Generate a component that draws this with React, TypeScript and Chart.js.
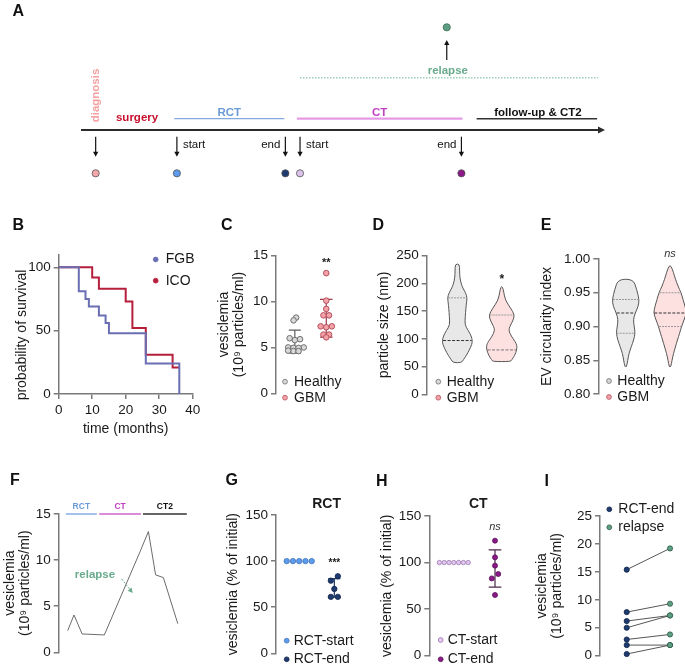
import React, { useEffect, useRef } from "react";
import { Chart, registerables } from "chart.js";

Chart.register(...registerables);

const W = 685;
const H = 669;
const FONT = "'Liberation Sans', Arial, Helvetica, sans-serif";
Chart.defaults.font.family = FONT;
Chart.defaults.font.size = 14;
Chart.defaults.color = "#1a1a1a";

// ======================= DATA =======================
// A - treatment timeline (schematic course units 0-100)
const timelineEventLabels = ["diagnosis", "RCT-start", "RCT-end", "CT-start", "CT-end"];
const timelineEventPos = [2.8, 18.3, 39.0, 41.8, 72.6];
const timelinePhaseLabels = ["RCT", "CT", "follow-up & CT2"];
const timelinePhaseStart = [17.8, 41.2, 75.5];
const timelinePhaseEnd = [38.8, 72.8, 98.5];
const timelineSurgeryPos = 10.7;
const timelineRelapsePos = 69.8;
const timelineRelapseSpan = [41.8, 98.7];

// B - Kaplan-Meier survival (%)
const kmFgbMonths = [0, 6, 8, 9, 12, 14, 15, 26, 36];
const kmFgbSurvival = [100, 81, 75, 69, 62, 56, 48, 24, 0];
const kmIcoMonths = [0, 10, 12, 20, 22, 26, 34, 36];
const kmIcoSurvival = [100, 92, 83, 73, 52, 31, 21, 21];
const kmTicksX = [0, 10, 20, 30, 40];
const kmTicksY = [0, 50, 100];

// C - vesiclemia (10^9 particles/ml)
const vesHealthy = [8.25, 7.95, 6.0, 5.8, 5.9, 5.0, 4.95, 5.0, 4.95, 4.6, 4.6, 4.65];
const vesGbm = [13.1, 10.1, 9.2, 8.5, 8.5, 7.3, 7.3, 7.2, 6.4, 6.4, 6.1];
const vesTicks = [0, 5, 10, 15];

// D - particle size violins (nm levels, relative density)
const sizeHealthyLevels = [57, 62, 70, 80, 90, 97, 105, 115, 125, 140, 155, 165, 174, 182, 190, 198, 210, 222, 235];
const sizeHealthyDensity = [0.27, 0.4, 0.6, 0.8, 0.97, 1, 0.93, 0.73, 0.5, 0.53, 0.57, 0.61, 0.65, 0.57, 0.4, 0.27, 0.17, 0.15, 0.15];
const sizeHealthyQuartiles = [97, 174];
const sizeGbmLevels = [59, 62, 70, 80, 88, 95, 105, 115, 122, 132, 143, 155, 170, 185, 194];
const sizeGbmDensity = [0.57, 0.65, 0.85, 0.98, 1, 0.88, 0.62, 0.46, 0.52, 0.72, 0.85, 0.59, 0.23, 0.13, 0.05];
const sizeGbmQuartiles = [80, 143];
const sizeTicks = [0, 50, 100, 150, 200, 250];

// E - EV circularity violins
const circHealthyLevels = [0.84, 0.85, 0.86, 0.87, 0.88, 0.89, 0.9, 0.91, 0.92, 0.93, 0.94, 0.955, 0.97];
const circHealthyDensity = [0.06, 0.15, 0.24, 0.41, 0.59, 0.7, 0.63, 0.56, 0.7, 0.93, 1, 0.81, 0.56];
const circHealthyQuartiles = [0.92, 0.89, 0.94];
const circGbmLevels = [0.84, 0.85, 0.86, 0.87, 0.88, 0.89, 0.9, 0.91, 0.92, 0.93, 0.94, 0.95, 0.96, 0.97, 0.98, 0.99];
const circGbmDensity = [0.05, 0.12, 0.21, 0.33, 0.45, 0.58, 0.7, 0.85, 1, 0.91, 0.79, 0.67, 0.48, 0.33, 0.21, 0.06];
const circGbmQuartiles = [0.92, 0.9, 0.95];
const circTicks = [0.8, 0.85, 0.9, 0.95, 1.0];

// F - single patient follow-up
const patientTime = [3, 5.1, 7.8, 15.2, 27.1, 29.9, 32.3, 34.9, 39.7];
const patientVes = [2.35, 4.05, 1.99, 1.88, 10.9, 13.1, 8.4, 8.1, 3.1];
const patientPhases = ["RCT", "CT", "CT2"];
const patientPhaseStart = [2.4, 13.5, 28.1];
const patientPhaseEnd = [12.7, 27.4, 42.7];
const patientRelapseText = [12.1, 8.38];
const patientRelapseArrow = [21.0, 7.95, 24.67, 6.43];

// G - RCT (% of initial)
const rctStartPct = [100, 100, 100, 100, 100];
const rctEndPct = [83.5, 78.8, 69.8, 61.2, 61.2];
// H - CT (% of initial)
const ctStartPct = [100, 100, 100, 100, 100, 100, 100];
const ctEndPct = [123.5, 105.6, 96.7, 87.7, 83.0, 65.2];
const pctTicks = [0, 50, 100, 150];
// I - paired RCT-end vs relapse
const pairRctEnd = [15.4, 7.8, 6.2, 5.0, 2.9, 1.9, 0.3];
const pairRelapse = [19.2, 9.3, 7.2, 7.2, 3.8, 1.9, 1.9];
const pairTicks = [0, 5, 10, 15, 20, 25];

// ======================= STYLE / LAYOUT =======================
const INK = "#1a1a1a";
const C_AXIS = "#7a7a7a";
const TICK_SIZE = 13.5;
const C_FGB = "#6a6fb3";
const C_ICO = "#b51f3c";
const C_H_FILL = "#d8d8d8";
const C_H_LINE = "#6e6e6e";
const C_G_FILL = "#f3a2a8";
const C_G_LINE = "#b4505d";
const C_RCT_START = "#5d9bec";
const C_RCT_END = "#1e3a6e";
const C_CT_START = "#e2c8f0";
const C_CT_END = "#8a1a88";
const C_RELAPSE = "#5e9f84";

const GEO: any = {
  A: { left: 81, right: 605, top: 0, bottom: 190, titleLeft: 81, xmin: 0, xmax: 100, ymin: 0, ymax: 190 },
  B: { left: 58.7, right: 192.7, top: 254.6, bottom: 394, titleLeft: 14.5, xAxisH: 43.5, xmin: 0, xmax: 40, ymin: 0, ymax: 110 },
  C: { left: 276, right: 345.1, top: 255.7, bottom: 393.3, titleLeft: 216.5, xmin: 0.4, xmax: 2.6, ymin: 0, ymax: 15 },
  D: { left: 426.7, right: 532.8, top: 255.7, bottom: 394.3, titleLeft: 376.5, xmin: 0.31, xmax: 2.7, ymin: 0, ymax: 250 },
  E: { left: 598.3, right: 685, top: 259, bottom: 394, titleLeft: 539.2, xmin: 0.381, xmax: 2.338, ymin: 0.8, ymax: 1.0 },
  F: { left: 58.7, right: 187.7, top: 514, bottom: 652.3, titleLeft: 2.5, xmin: 0, xmax: 43, ymin: 0, ymax: 15 },
  G: { left: 276, right: 351.9, top: 515, bottom: 653.3, titleLeft: 225.8, xmin: 0.339, xmax: 2.5, ymin: 0, ymax: 150 },
  H: { left: 429.3, right: 515.6, top: 516, bottom: 655.7, titleLeft: 379.2, xmin: 0.405, xmax: 2.5, ymin: 0, ymax: 150 },
  I: { left: 600, right: 685, top: 516, bottom: 655.7, titleLeft: 534.8, xmin: 0.383, xmax: 2.346, ymin: 0, ymax: 25 },
};

const LETTERS = [
  ["A", 18.3, 10.7], ["B", 18.3, 225], ["C", 226.7, 225], ["D", 378.3, 225], ["E", 546, 225],
  ["F", 15, 480], ["G", 231.7, 480], ["H", 381.7, 480.7], ["I", 546.7, 480.7],
];

// ======================= HELPERS =======================
function pxPerY(g: any) { return (g.bottom - g.top) / (g.ymax - g.ymin); }
function pxPerX(g: any) { return (g.right - g.left) / (g.xmax - g.xmin); }

// deterministic beeswarm (elliptical collision): returns x offsets in category units
function swarm(values: number[], py: number, px: number, dx: number, dy: number): number[] {
  const order = values.map((_, i) => i).sort((a, b) => values[a] - values[b]);
  const placed: { x: number; y: number }[] = [];
  const xs = new Array(values.length).fill(0);
  const step = dx / 2;
  const free = (c: number, y: number) =>
    placed.every((p) => Math.pow((p.x - c) / dx, 2) + Math.pow((p.y - y) / dy, 2) >= 1 - 1e-6);
  for (const i of order) {
    const y = values[i] * py;
    let best = 0;
    for (let k = 0; k < 400; k++) {
      const cands = k === 0 ? [0] : [k * step, -k * step];
      let found: number | null = null;
      for (const c of cands) { if (free(c, y)) { found = c; break; } }
      if (found !== null) { best = found; break; }
    }
    placed.push({ x: best, y });
    xs[i] = best;
  }
  let cluster: number[] = [];
  const flush = () => {
    if (!cluster.length) return;
    const m = cluster.reduce((s, j) => s + xs[j], 0) / cluster.length;
    cluster.forEach((j) => (xs[j] -= m));
    cluster = [];
  };
  let prev = -Infinity;
  for (const i of order) {
    const y = values[i] * py;
    if (y - prev >= dy) flush();
    cluster.push(i);
    prev = y;
  }
  flush();
  return xs.map((x) => x / px);
}

function interp(lv: number[], dn: number[], v: number) {
  if (v <= lv[0]) return dn[0];
  for (let i = 1; i < lv.length; i++) {
    if (v <= lv[i]) { const t = (v - lv[i - 1]) / (lv[i] - lv[i - 1]); return dn[i - 1] + t * (dn[i] - dn[i - 1]); }
  }
  return dn[dn.length - 1];
}

function smoothClosed(ctx: CanvasRenderingContext2D, pts: number[][]) {
  const n = pts.length;
  const mid = (a: number[], b: number[]) => [(a[0] + b[0]) / 2, (a[1] + b[1]) / 2];
  const m0 = mid(pts[n - 1], pts[0]);
  ctx.moveTo(m0[0], m0[1]);
  for (let i = 0; i < n; i++) {
    const p = pts[i];
    const m = mid(p, pts[(i + 1) % n]);
    ctx.quadraticCurveTo(p[0], p[1], m[0], m[1]);
  }
  ctx.closePath();
}

function makeExtras(items: any[]) {
  const draw = (chart: any, layer: string) => {
    const ctx: CanvasRenderingContext2D = chart.ctx;
    const sx = chart.scales.x;
    const sy = chart.scales.y;
    const P = (it: any, x: number, y: number) =>
      it.s === "px" ? [x, y] : [sx.getPixelForValue(x), sy.getPixelForValue(y)];
    for (const it of items) {
      if ((it.layer || "over") !== layer) continue;
      ctx.save();
      if (it.k === "text") {
        const [X, Y] = P(it, it.x, it.y);
        ctx.translate(X + (it.dx || 0), Y + (it.dy || 0));
        if (it.rot) ctx.rotate(it.rot);
        ctx.font = `${it.font || "14px"} ${FONT}`;
        ctx.fillStyle = it.color || INK;
        ctx.textAlign = it.align || "center";
        ctx.textBaseline = "middle";
        ctx.fillText(it.text, 0, 0);
      } else if (it.k === "dot") {
        const [X, Y] = P(it, it.x, it.y);
        ctx.beginPath();
        ctx.arc(X, Y, it.r, 0, Math.PI * 2);
        ctx.fillStyle = it.fill;
        ctx.fill();
        if (it.stroke) { ctx.strokeStyle = it.stroke; ctx.lineWidth = it.lw || 0.8; ctx.stroke(); }
      } else if (it.k === "arrow") {
        const [x1, y1] = P(it, it.x1, it.y1);
        const [x2, y2] = P(it, it.x2, it.y2);
        const a = Math.atan2(y2 - y1, x2 - x1);
        const hl = it.head || 5, hw = it.hw || 2.5;
        ctx.strokeStyle = it.color; ctx.lineWidth = it.lw || 1;
        if (it.dash) ctx.setLineDash(it.dash);
        ctx.beginPath();
        ctx.moveTo(x1, y1);
        ctx.lineTo(x2 - Math.cos(a) * hl * 0.8, y2 - Math.sin(a) * hl * 0.8);
        ctx.stroke();
        ctx.setLineDash([]);
        ctx.fillStyle = it.color;
        ctx.beginPath();
        ctx.moveTo(x2, y2);
        ctx.lineTo(x2 - Math.cos(a) * hl - Math.sin(a) * hw, y2 - Math.sin(a) * hl + Math.cos(a) * hw);
        ctx.lineTo(x2 - Math.cos(a) * hl + Math.sin(a) * hw, y2 - Math.sin(a) * hl - Math.cos(a) * hw);
        ctx.closePath();
        ctx.fill();
      } else if (it.k === "err") {
        const v: number[] = it.values;
        const n = v.length;
        const m = v.reduce((s, b) => s + b, 0) / n;
        const sd = Math.sqrt(v.reduce((s, b) => s + (b - m) * (b - m), 0) / (n - 1));
        const X = sx.getPixelForValue(it.x);
        const yt = sy.getPixelForValue(m + sd), yb = sy.getPixelForValue(m - sd);
        ctx.strokeStyle = it.color; ctx.lineWidth = it.lw || 1.2;
        ctx.beginPath();
        ctx.moveTo(X, yt); ctx.lineTo(X, yb);
        ctx.moveTo(X - it.cap, yt); ctx.lineTo(X + it.cap, yt);
        ctx.moveTo(X - it.cap, yb); ctx.lineTo(X + it.cap, yb);
        ctx.stroke();
      } else if (it.k === "violin") {
        const cx = sx.getPixelForValue(it.x);
        const lv: number[] = it.levels, dn: number[] = it.dens, hw: number = it.hw;
        const right = lv.map((v, i) => [cx + dn[i] * hw, sy.getPixelForValue(v)]);
        const left = lv.map((v, i) => [cx - dn[i] * hw, sy.getPixelForValue(v)]).reverse();
        ctx.beginPath();
        smoothClosed(ctx, right.concat(left));
        ctx.fillStyle = it.fill; ctx.fill();
        ctx.strokeStyle = it.stroke; ctx.lineWidth = 1; ctx.stroke();
        for (const q of it.lines) {
          const w = interp(lv, dn, q.v) * hw * 0.95;
          const y = sy.getPixelForValue(q.v);
          ctx.setLineDash(q.dash || []);
          ctx.strokeStyle = q.color; ctx.lineWidth = q.lw || 1;
          ctx.beginPath(); ctx.moveTo(cx - w, y); ctx.lineTo(cx + w, y); ctx.stroke();
        }
        ctx.setLineDash([]);
      }
      ctx.restore();
    }
  };
  return {
    id: "extras",
    beforeDatasetsDraw(chart: any) { draw(chart, "under"); },
    afterDatasetsDraw(chart: any) { draw(chart, "over"); },
  };
}

function legend(x: number, y: number, gap: number, dx: number, entries: any[], r = 2.4) {
  const out: any[] = [];
  entries.forEach((e, i) => {
    out.push({ k: "dot", s: "px", x, y: y + i * gap, r, fill: e.fill, stroke: e.stroke, lw: 0.8 });
    out.push({ k: "text", s: "px", x: x + dx, y: y + i * gap, text: e.label, font: "14px", align: "left" });
  });
  return out;
}

function yAxis(g: any, ticks: number[], title: any, fmt?: (v: number) => string) {
  return {
    type: "linear", position: "left", min: g.ymin, max: g.ymax,
    afterBuildTicks: (s: any) => { s.ticks = ticks.map((v) => ({ value: v })); },
    border: { display: true, color: C_AXIS, width: 1.5 },
    grid: { display: true, drawOnChartArea: false, drawTicks: true, tickLength: 5, color: C_AXIS, lineWidth: 1.5 },
    ticks: { padding: 3, color: INK, font: { size: TICK_SIZE }, autoSkip: false, callback: (v: any) => (fmt ? fmt(Number(v)) : String(v)) },
    title: title
      ? { display: true, text: title, padding: 0, color: INK, font: { size: 14, lineHeight: 15 / 14 } }
      : { display: false },
    afterFit: (s: any) => { s.width = g.left - g.titleLeft; },
  };
}

function hiddenX(g: any) {
  return { type: "linear", display: false, min: g.xmin, max: g.xmax };
}

function baseOptions(g: any, scales: any) {
  return {
    responsive: false, maintainAspectRatio: false, animation: false, devicePixelRatio: 1, events: [],
    layout: {
      autoPadding: false,
      padding: { left: g.titleLeft, right: W - g.right, top: g.top, bottom: H - g.bottom - (g.xAxisH || 0) },
    },
    plugins: { legend: { display: false }, tooltip: { enabled: false } },
    scales,
  };
}

const pts = (xs: number[], ys: number[]) => xs.map((x, i) => ({ x, y: ys[i] }));

// ======================= PANELS =======================
function cfgA() {
  const g = GEO.A;
  const lvl = { axis: 130, phase: 118.7, phaseText: 112.7, relText: 70.7, relLine: 77.7, arrTop: 136.7, arrTip: 156.7, dots: 173.3, evText: 145.3, relFrom: 60, relTo: 40, relDot: 27.3, diag: 95.5, surgery: 117.7 };
  const phaseColors = ["#82a9dd", "#e69ae6", "#333333"];
  const phaseWidths = [1.2, 2.2, 1.5];
  const phaseTextColors = ["#6a9bd8", "#c23fc2", "#111111"];
  const eventColors = ["#f4a7ab", C_RCT_START, C_RCT_END, "#dcc3ee", C_CT_END];
  const datasets: any[] = [
    { data: [{ x: timelineRelapsePos, y: lvl.relDot }], pointRadius: 3.6, pointBackgroundColor: C_RELAPSE, pointBorderColor: "#3d6b57", pointBorderWidth: 0.8 },
    { data: timelineEventPos.map((x) => ({ x, y: lvl.dots })), pointRadius: 3.6, pointBackgroundColor: eventColors, pointBorderColor: "#555", pointBorderWidth: 0.8 },
    ...timelinePhaseLabels.map((_, i) => ({
      data: [{ x: timelinePhaseStart[i], y: lvl.phase }, { x: timelinePhaseEnd[i], y: lvl.phase }],
      showLine: true, borderColor: phaseColors[i], borderWidth: phaseWidths[i], pointRadius: 0, clip: false,
    })),
    {
      data: [{ x: timelineRelapseSpan[0], y: lvl.relLine }, { x: timelineRelapseSpan[1], y: lvl.relLine }],
      showLine: true, borderColor: "#9ccfb8", borderWidth: 1.5, borderDash: [1.5, 1.5], pointRadius: 0, clip: false,
    },
  ];
  const items: any[] = [
    { k: "arrow", x1: g.xmin, y1: lvl.axis, x2: g.xmax, y2: lvl.axis, color: "#2b2b2b", lw: 2, head: 7, hw: 3.5 },
    { k: "arrow", x1: timelineRelapsePos, y1: lvl.relFrom, x2: timelineRelapsePos, y2: lvl.relTo, color: "#111", lw: 1.2, head: 5, hw: 2.6 },
    { k: "text", x: timelineEventPos[0], y: lvl.diag, text: "diagnosis", font: "bold 11.5px", color: "#f4a0a0", rot: -Math.PI / 2 },
    { k: "text", x: timelineSurgeryPos, y: lvl.surgery, text: "surgery", font: "bold 11.5px", color: "#c8102e" },
    { k: "text", x: timelineRelapsePos + 0.2, y: lvl.relText, text: "relapse", font: "bold 11.5px", color: "#6aab8e" },
  ];
  timelinePhaseLabels.forEach((p, i) => {
    items.push({ k: "text", x: i === 2 ? timelinePhaseStart[i] + 11.7 : (timelinePhaseStart[i] + timelinePhaseEnd[i]) / 2, y: lvl.phaseText, text: p, font: "bold 11.5px", color: phaseTextColors[i] });
  });
  timelineEventPos.forEach((x, i) => {
    items.push({ k: "arrow", x1: x, y1: lvl.arrTop, x2: x, y2: lvl.arrTip, color: "#111", lw: 1.2, head: 5, hw: 2.6 });
    const parts = timelineEventLabels[i].split("-");
    if (parts.length > 1) {
      const isStart = parts[1] === "start";
      items.push({ k: "text", x, y: lvl.evText, dx: isStart ? 6 : -5, text: parts[1], font: "11.5px", color: "#111", align: isStart ? "left" : "right" });
    }
  });
  const scales = {
    x: hiddenX(g),
    y: { type: "linear", display: false, min: g.ymin, max: g.ymax, reverse: true },
  };
  return { type: "scatter", data: { datasets }, options: baseOptions(g, scales), plugins: [makeExtras(items)] };
}

function cfgB() {
  const g = GEO.B;
  const xAxis = {
    type: "linear", position: "bottom", min: g.xmin, max: g.xmax,
    afterBuildTicks: (s: any) => { s.ticks = kmTicksX.map((v) => ({ value: v })); },
    border: { display: true, color: C_AXIS, width: 1.5 },
    grid: { display: true, drawOnChartArea: false, drawTicks: true, tickLength: 5, color: C_AXIS, lineWidth: 1.5 },
    ticks: { padding: 3, color: INK, font: { size: TICK_SIZE }, maxRotation: 0, autoSkip: false },
    title: { display: true, text: "time (months)", padding: 0, color: INK, font: { size: 14 } },
    afterFit: (s: any) => { s.height = g.xAxisH; },
  };
  const datasets = [
    { data: pts(kmFgbMonths, kmFgbSurvival), showLine: true, stepped: "before", borderColor: C_FGB, borderWidth: 2, pointRadius: 0, clip: false },
    { data: pts(kmIcoMonths, kmIcoSurvival), showLine: true, stepped: "before", borderColor: C_ICO, borderWidth: 2, pointRadius: 0, clip: false },
  ];
  const items = [
    { k: "text", s: "px", x: 22.2, y: 335, text: "probability of survival", font: "14px", rot: -Math.PI / 2 },
    ...legend(155.7, 259.5, 21.2, 10, [
      { label: "FGB", fill: C_FGB, stroke: C_FGB },
      { label: "ICO", fill: C_ICO, stroke: C_ICO },
    ]),
  ];
  return { type: "scatter", data: { datasets }, options: baseOptions(g, { x: xAxis, y: yAxis(g, kmTicksY, null) }), plugins: [makeExtras(items)] };
}

function cfgC() {
  const g = GEO.C;
  const py = pxPerY(g), px = pxPerX(g);
  const oh = swarm(vesHealthy, py, px, 5.2, 3.1);
  const og = swarm(vesGbm, py, px, 5.6, 3.1);
  const datasets = [
    { data: vesHealthy.map((v, i) => ({ x: 1 + oh[i], y: v })), pointRadius: 2.8, backgroundColor: C_H_FILL, borderColor: C_H_LINE, borderWidth: 1, clip: false },
    { data: vesGbm.map((v, i) => ({ x: 2 + og[i], y: v })), pointRadius: 2.8, backgroundColor: C_G_FILL, borderColor: C_G_LINE, borderWidth: 1, clip: false },
  ];
  const items = [
    { k: "err", x: 1, values: vesHealthy, color: "#5e5e5e", cap: 6, layer: "under" },
    { k: "err", x: 2, values: vesGbm, color: "#9c3a4a", cap: 6.3, layer: "under" },
    { k: "text", x: 2, y: 14.26, text: "**", font: "bold 11px" },
    ...legend(285, 381.7, 16, 9, [
      { label: "Healthy", fill: C_H_FILL, stroke: C_H_LINE },
      { label: "GBM", fill: C_G_FILL, stroke: C_G_LINE },
    ]),
  ];
  return { type: "scatter", data: { datasets }, options: baseOptions(g, { x: hiddenX(g), y: yAxis(g, vesTicks, ["vesiclemia", "(10\u2079 particles/ml)"]) }), plugins: [makeExtras(items)] };
}

function violinLines(q: number[]) {
  return q.map((v, i) => ({ v, color: i === 0 ? "#333" : "#999", dash: i === 0 ? [3, 1.5] : [2, 1] }));
}

function cfgD() {
  const g = GEO.D;
  const items = [
    { k: "violin", x: 1, levels: sizeHealthyLevels, dens: sizeHealthyDensity, hw: 15, fill: "#e8e8e8", stroke: "#555", lines: violinLines(sizeHealthyQuartiles), layer: "under" },
    { k: "violin", x: 2, levels: sizeGbmLevels, dens: sizeGbmDensity, hw: 15.3, fill: "#fde0e0", stroke: "#555", lines: [{ v: sizeGbmQuartiles[0], color: "#777", dash: [3, 1.5] }, { v: sizeGbmQuartiles[1], color: "#999", dash: [2, 1] }], layer: "under" },
    { k: "text", x: 2, y: 206, text: "*", font: "bold 12px" },
    ...legend(438.3, 381.7, 16, 8.4, [
      { label: "Healthy", fill: C_H_FILL, stroke: C_H_LINE },
      { label: "GBM", fill: C_G_FILL, stroke: C_G_LINE },
    ]),
  ];
  return { type: "scatter", data: { datasets: [] }, options: baseOptions(g, { x: hiddenX(g), y: yAxis(g, sizeTicks, "particle size (nm)") }), plugins: [makeExtras(items)] };
}

function cfgE() {
  const g = GEO.E;
  const items = [
    { k: "violin", x: 1, levels: circHealthyLevels, dens: circHealthyDensity, hw: 13.5, fill: "#e8e8e8", stroke: "#555", lines: violinLines(circHealthyQuartiles), layer: "under" },
    { k: "violin", x: 2, levels: circGbmLevels, dens: circGbmDensity, hw: 16.5, fill: "#fde0e0", stroke: "#555", lines: violinLines(circGbmQuartiles), layer: "under" },
    { k: "text", x: 2, y: 1.008, text: "ns", font: "italic 11px", color: "#333" },
    ...legend(609, 381, 16, 8.3, [
      { label: "Healthy", fill: C_H_FILL, stroke: C_H_LINE },
      { label: "GBM", fill: C_G_FILL, stroke: C_G_LINE },
    ]),
  ];
  return { type: "scatter", data: { datasets: [] }, options: baseOptions(g, { x: hiddenX(g), y: yAxis(g, circTicks, "EV circularity index", (v) => v.toFixed(2)) }), plugins: [makeExtras(items)] };
}

function cfgF() {
  const g = GEO.F;
  const phaseColors = ["#86aee6", "#cc66cc", "#333333"];
  const phaseText = ["#6a9bd8", "#c040c0", "#111111"];
  const datasets: any[] = [
    { data: pts(patientTime, patientVes), showLine: true, borderColor: "#6b6b6b", borderWidth: 1, pointRadius: 0, clip: false },
    ...patientPhases.map((_, i) => ({
      data: [{ x: patientPhaseStart[i], y: g.ymax }, { x: patientPhaseEnd[i], y: g.ymax }],
      showLine: true, borderColor: phaseColors[i], borderWidth: 1.5, pointRadius: 0, clip: false,
    })),
  ];
  const items: any[] = patientPhases.map((p, i) => ({
    k: "text", x: (patientPhaseStart[i] + patientPhaseEnd[i]) / 2, y: g.ymax, dy: -7, text: p, font: "bold 8.5px", color: phaseText[i],
  }));
  items.push({ k: "text", x: patientRelapseText[0], y: patientRelapseText[1], text: "relapse", font: "bold 11.5px", color: "#6aab8e" });
  items.push({ k: "arrow", x1: patientRelapseArrow[0], y1: patientRelapseArrow[1], x2: patientRelapseArrow[2], y2: patientRelapseArrow[3], color: "#6aab8e", lw: 1, dash: [2, 1.5], head: 5, hw: 2.5 });
  return { type: "scatter", data: { datasets }, options: baseOptions(g, { x: hiddenX(g), y: yAxis(g, vesTicks, ["vesiclemia", "(10\u2079 particles/ml)"]) }), plugins: [makeExtras(items)] };
}

function cfgG() {
  const g = GEO.G;
  const py = pxPerY(g), px = pxPerX(g);
  const os = swarm(rctStartPct, py, px, 6.25, 6.25);
  const oe = swarm(rctEndPct, py, px, 7, 6);
  const datasets = [
    { data: rctStartPct.map((v, i) => ({ x: 1 + os[i], y: v })), pointRadius: 2.7, backgroundColor: C_RCT_START, borderColor: "#3f72b8", borderWidth: 0.8, clip: false },
    { data: rctEndPct.map((v, i) => ({ x: 2 + oe[i], y: v })), pointRadius: 2.7, backgroundColor: C_RCT_END, borderColor: "#10244a", borderWidth: 0.8, clip: false },
  ];
  const items = [
    { k: "err", x: 2, values: rctEndPct, color: C_RCT_END, cap: 6, layer: "under" },
    { k: "text", x: 2, y: 97.9, text: "***", font: "bold 10px" },
    { k: "text", x: 1.78, y: 162, text: "RCT", font: "bold 14px" },
    ...legend(286.7, 640.7, 18.6, 7, [
      { label: "RCT-start", fill: C_RCT_START, stroke: "#3f72b8" },
      { label: "RCT-end", fill: C_RCT_END, stroke: "#10244a" },
    ]),
  ];
  return { type: "scatter", data: { datasets }, options: baseOptions(g, { x: hiddenX(g), y: yAxis(g, pctTicks, "vesiclemia (% of initial)") }), plugins: [makeExtras(items)] };
}

function cfgH() {
  const g = GEO.H;
  const py = pxPerY(g), px = pxPerX(g);
  const os = swarm(ctStartPct, py, px, 4.8, 4.8);
  const oe = swarm(ctEndPct, py, px, 6.4, 6);
  const datasets = [
    { data: ctStartPct.map((v, i) => ({ x: 1 + os[i], y: v })), pointRadius: 2.2, backgroundColor: C_CT_START, borderColor: "#9a78b0", borderWidth: 0.8, clip: false },
    { data: ctEndPct.map((v, i) => ({ x: 2 + oe[i], y: v })), pointRadius: 2.5, backgroundColor: C_CT_END, borderColor: "#5a0f58", borderWidth: 0.8, clip: false },
  ];
  const items = [
    { k: "err", x: 2, values: ctEndPct, color: "#4a2a4a", cap: 6.3, layer: "under" },
    { k: "text", x: 2, y: 138.5, text: "ns", font: "italic 11px", color: "#333" },
    { k: "text", x: 1.595, y: 162.9, text: "CT", font: "bold 14px" },
    ...legend(440.7, 640, 19.3, 7, [
      { label: "CT-start", fill: C_CT_START, stroke: "#9a78b0" },
      { label: "CT-end", fill: C_CT_END, stroke: "#5a0f58" },
    ]),
  ];
  return { type: "scatter", data: { datasets }, options: baseOptions(g, { x: hiddenX(g), y: yAxis(g, pctTicks, "vesiclemia (% of initial)") }), plugins: [makeExtras(items)] };
}

function cfgI() {
  const g = GEO.I;
  const datasets: any[] = [
    { data: pairRctEnd.map((v) => ({ x: 1, y: v })), pointRadius: 2.6, backgroundColor: C_RCT_END, borderColor: "#10244a", borderWidth: 0.8, clip: false, order: 0 },
    { data: pairRelapse.map((v) => ({ x: 2, y: v })), pointRadius: 2.6, backgroundColor: C_RELAPSE, borderColor: "#2e5a48", borderWidth: 0.8, clip: false, order: 0 },
    ...pairRctEnd.map((v, i) => ({
      data: [{ x: 1, y: v }, { x: 2, y: pairRelapse[i] }], showLine: true, borderColor: "#444", borderWidth: 0.9, pointRadius: 0, clip: false, order: 1,
    })),
  ];
  const items = legend(609.3, 509.3, 18, 9, [
    { label: "RCT-end", fill: C_RCT_END, stroke: "#10244a" },
    { label: "relapse", fill: C_RELAPSE, stroke: "#2e5a48" },
  ]);
  return { type: "scatter", data: { datasets }, options: baseOptions(g, { x: hiddenX(g), y: yAxis(g, pairTicks, ["vesiclemia", "(10\u2079 particles/ml)"]) }), plugins: [makeExtras(items)] };
}

const BUILDERS = [cfgA, cfgB, cfgC, cfgD, cfgE, cfgF, cfgG, cfgH, cfgI];

export default function App() {
  const refs = useRef<(HTMLCanvasElement | null)[]>([]);
  useEffect(() => {
    const charts = BUILDERS.map((b, i) => new Chart(refs.current[i] as HTMLCanvasElement, b() as any));
    return () => charts.forEach((c) => c.destroy());
  }, []);
  return (
    <div style={{ position: "fixed", left: 0, top: 0, width: W, height: H, background: "#fff", overflow: "hidden", fontFamily: FONT }}>
      {BUILDERS.map((_, i) => (
        <canvas
          key={i}
          ref={(el) => { refs.current[i] = el; }}
          width={W}
          height={H}
          style={{ position: "absolute", left: 0, top: 0, width: W, height: H }}
        />
      ))}
      {LETTERS.map(([t, x, y]) => (
        <div
          key={t as string}
          style={{ position: "absolute", left: x as number, top: y as number, transform: "translate(-50%, -50%)", fontWeight: "bold", fontSize: 16, lineHeight: 1, color: "#111" }}
        >
          {t}
        </div>
      ))}
    </div>
  );
}
